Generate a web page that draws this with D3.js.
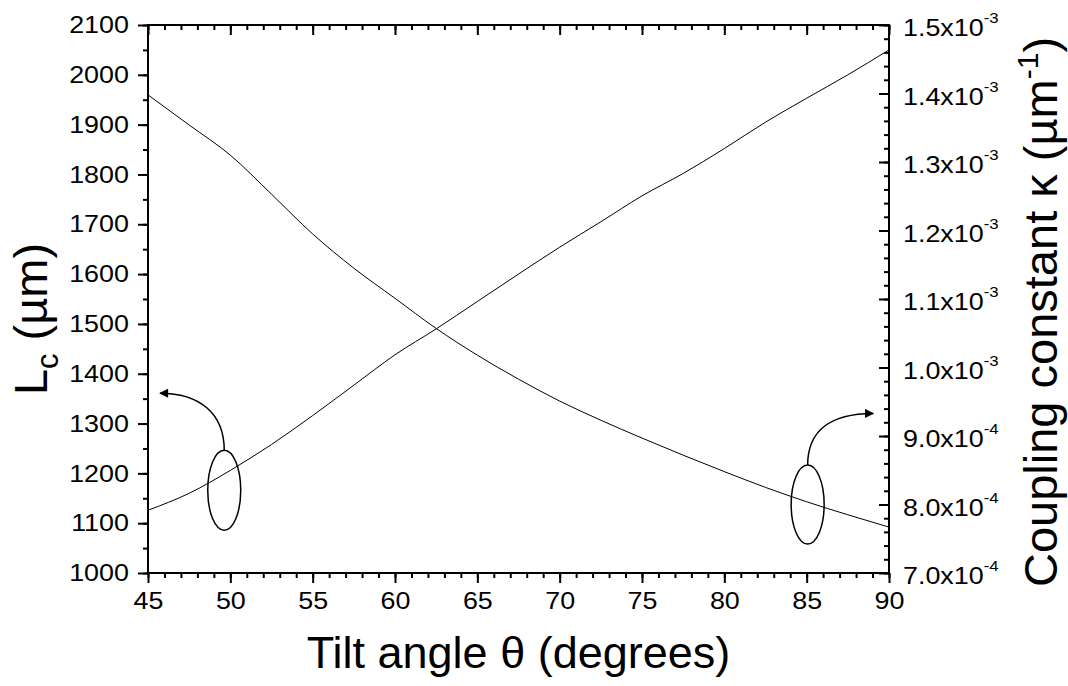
<!DOCTYPE html>
<html>
<head>
<meta charset="utf-8">
<script src="https://cdn.jsdelivr.net/npm/d3@7"></script>
<style>
  body { margin: 0; background: #fff; }
  text { font-family: "Liberation Sans", Arial, sans-serif; fill: #000; }
</style>
</head>
<body>
<svg id="chart" width="1068" height="686"></svg>
<script>
// tilt angle (degrees)
var theta = [45, 47.5, 50, 52.5, 55, 57.5, 60, 62.5, 65, 67.5, 70, 72.5, 75, 77.5, 80, 82.5, 85, 87.5, 90];
// coupling length Lc (um), left axis
var lc = [1126, 1160, 1206, 1258, 1316, 1377, 1438, 1490, 1545, 1600, 1654, 1705, 1757, 1802, 1852, 1905, 1953, 2000, 2050];
// coupling constant kappa (um^-1), right axis
var kappa = [1.398e-3, 1.354e-3, 1.310e-3, 1.253e-3, 1.195e-3, 1.145e-3, 1.101e-3, 1.057e-3, 1.018e-3, 0.983e-3,
             0.951e-3, 0.923e-3, 0.897e-3, 0.872e-3, 0.848e-3, 0.825e-3, 0.804e-3, 0.785e-3, 0.767e-3];

var xTicks = [45, 50, 55, 60, 65, 70, 75, 80, 85, 90];
var lcTicks = [1000, 1100, 1200, 1300, 1400, 1500, 1600, 1700, 1800, 1900, 2000, 2100];
var kTicks = [7e-4, 8e-4, 9e-4, 1.0e-3, 1.1e-3, 1.2e-3, 1.3e-3, 1.4e-3, 1.5e-3];
var kLabels = [["7.0", "-4"], ["8.0", "-4"], ["9.0", "-4"], ["1.0", "-3"], ["1.1", "-3"],
               ["1.2", "-3"], ["1.3", "-3"], ["1.4", "-3"], ["1.5", "-3"]];

var FONT = "'Liberation Sans', Arial, sans-serif";
var STRETCH = 1.12; // tick labels in the original are a bit wide
var svg = d3.select("#chart");
var pLeft = 148, pRight = 889, pTop = 25, pBottom = 573;

var x = d3.scaleLinear().domain([45, 90]).range([pLeft, pRight]);
var yL = d3.scaleLinear().domain([1000, 2100]).range([pBottom, pTop]);
var yR = d3.scaleLinear().domain([7e-4, 1.5e-3]).range([pBottom, pTop]);

// minor ticks
var xMinor = d3.range(45, 90.5, 1);
var lcMinor = d3.range(1000, 2101, 50);
var kMinor = d3.range(0, 41).map(function(i) { return 7e-4 + i * 0.2e-4; });

function styleAxis(g) {
  g.select(".domain").remove();
  g.selectAll("line").attr("stroke", "#000").attr("stroke-width", 2);
  g.attr("font-size", 24).attr("font-family", FONT);
  g.selectAll("text").attr("transform", "scale(" + STRETCH + ",1)");
}

// bottom (outward)
svg.append("g").attr("transform", "translate(0," + pBottom + ")")
  .call(d3.axisBottom(x).tickValues(xMinor).tickSize(5).tickFormat(""))
  .call(styleAxis);
svg.append("g").attr("transform", "translate(0," + pBottom + ")")
  .call(d3.axisBottom(x).tickValues(xTicks).tickSize(10).tickPadding(9).tickFormat(d3.format("d")))
  .call(styleAxis);

// top (inward)
svg.append("g").attr("transform", "translate(0," + pTop + ")")
  .call(d3.axisBottom(x).tickValues(xMinor).tickSize(5).tickFormat(""))
  .call(styleAxis);
svg.append("g").attr("transform", "translate(0," + pTop + ")")
  .call(d3.axisBottom(x).tickValues(xTicks).tickSize(10).tickFormat(""))
  .call(styleAxis);

// left (outward)
svg.append("g").attr("transform", "translate(" + pLeft + ",0)")
  .call(d3.axisLeft(yL).tickValues(lcMinor).tickSize(5).tickFormat(""))
  .call(styleAxis);
svg.append("g").attr("transform", "translate(" + pLeft + ",0)")
  .call(d3.axisLeft(yL).tickValues(lcTicks).tickSize(10).tickPadding(7).tickFormat(d3.format("d")))
  .call(styleAxis);

// right (inward)
svg.append("g").attr("transform", "translate(" + pRight + ",0)")
  .call(d3.axisLeft(yR).tickValues(kMinor).tickSize(5).tickFormat(""))
  .call(styleAxis);
svg.append("g").attr("transform", "translate(" + pRight + ",0)")
  .call(d3.axisLeft(yR).tickValues(kTicks).tickSize(10).tickFormat(""))
  .call(styleAxis);

var rLab = svg.append("g").selectAll("text").data(kTicks).enter().append("text")
  .attr("transform", function(d) { return "translate(" + (pRight + 14) + "," + (yR(d) + 11) + ") scale(" + STRETCH + ",1)"; })
  .attr("font-size", 24);
rLab.append("tspan").text(function(d, i) { return kLabels[i][0] + "x10"; });
rLab.append("tspan").attr("dy", -13).attr("font-size", 15).text(function(d, i) { return kLabels[i][1]; });

// frame
svg.append("rect").attr("x", pLeft).attr("y", pTop)
  .attr("width", pRight - pLeft).attr("height", pBottom - pTop)
  .attr("fill", "none").attr("stroke", "#000").attr("stroke-width", 2);

// curves
var lineL = d3.line().x(function(d, i) { return x(theta[i]); }).y(function(d) { return yL(d); }).curve(d3.curveMonotoneX);
var lineR = d3.line().x(function(d, i) { return x(theta[i]); }).y(function(d) { return yR(d); }).curve(d3.curveMonotoneX);

svg.append("path").datum(lc).attr("d", lineL).attr("fill", "none").attr("stroke", "#000").attr("stroke-width", 1);
svg.append("path").datum(kappa).attr("d", lineR).attr("fill", "none").attr("stroke", "#000").attr("stroke-width", 1);

// annotations: ellipses + arrows
svg.append("defs").append("marker")
  .attr("id", "arrow").attr("viewBox", "0 0 10 10").attr("refX", 9).attr("refY", 5)
  .attr("markerWidth", 15).attr("markerHeight", 9).attr("markerUnits", "userSpaceOnUse")
  .attr("orient", "auto")
  .append("path").attr("d", "M0,0 L10,5 L0,10 Z").attr("fill", "#000");

var e1x = x(49.63), e1y = yL(1166);
svg.append("ellipse").attr("cx", e1x).attr("cy", e1y).attr("rx", 16.5).attr("ry", 40)
  .attr("fill", "none").attr("stroke", "#000").attr("stroke-width", 1.5);
var t1x = x(45.73), t1y = yL(1361);
svg.append("path")
  .attr("d", "M" + e1x + "," + (e1y - 40) + " C" + e1x + "," + (t1y + 20) + " " + (e1x - 25) + "," + t1y + " " + t1x + "," + t1y)
  .attr("fill", "none").attr("stroke", "#000").attr("stroke-width", 1.5).attr("marker-end", "url(#arrow)");

var e2x = x(85.06), e2y = yR(0.8e-3);
svg.append("ellipse").attr("cx", e2x).attr("cy", e2y).attr("rx", 16.5).attr("ry", 39.5)
  .attr("fill", "none").attr("stroke", "#000").attr("stroke-width", 1.5);
var t2x = x(89.04), t2y = yR(0.933e-3);
svg.append("path")
  .attr("d", "M" + e2x + "," + (e2y - 39.5) + " C" + e2x + "," + (t2y + 18) + " " + (e2x + 22) + "," + t2y + " " + t2x + "," + t2y)
  .attr("fill", "none").attr("stroke", "#000").attr("stroke-width", 1.5).attr("marker-end", "url(#arrow)");

// axis titles
svg.append("text").attr("x", (pLeft + pRight) / 2).attr("y", 668)
  .attr("text-anchor", "middle").attr("font-size", 45)
  .text("Tilt angle \u03b8 (degrees)");

var tl = svg.append("text").attr("transform", "translate(47,319) rotate(-90)")
  .attr("text-anchor", "middle").attr("font-size", 47);
tl.append("tspan").text("L");
tl.append("tspan").attr("font-size", 31).attr("dy", 11).text("c");
tl.append("tspan").attr("dy", -11).text(" (\u00b5m)");

var tr = svg.append("text").attr("transform", "translate(1057,312) rotate(-90)")
  .attr("text-anchor", "middle").attr("font-size", 47);
tr.append("tspan").text("Coupling constant \u03ba (\u00b5m");
tr.append("tspan").attr("font-size", 30).attr("dy", -19).text("-1");
tr.append("tspan").attr("dy", 19).text(")");
</script>
</body>
</html>
